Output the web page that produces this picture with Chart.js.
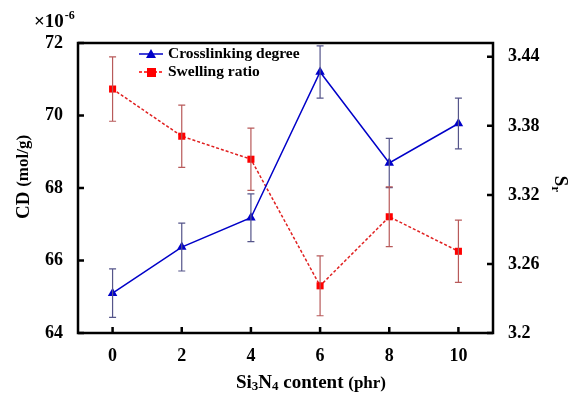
<!DOCTYPE html>
<html><head><meta charset="utf-8">
<script src="https://cdn.jsdelivr.net/npm/chart.js@4/dist/chart.umd.min.js"></script>
<style>html,body{margin:0;padding:0;background:#fff}#wrap{width:570px;height:395px}</style>
</head><body><div id="wrap"><canvas id="c" width="570" height="395"></canvas></div>
<script>
const contents = [0, 2, 4, 6, 8, 10];
const cdValues = [65.1, 66.37, 67.18, 71.2, 68.69, 69.78];
const cdErrors = [0.67, 0.66, 0.66, 0.72, 0.68, 0.7];
const srValues = [3.412, 3.371, 3.351, 3.241, 3.301, 3.271];
const srErrors = [0.028, 0.027, 0.027, 0.026, 0.026, 0.027];
const xTicks = [0, 2, 4, 6, 8, 10];
const cdTicks = [64, 66, 68, 70, 72];
const srTicks = [3.2, 3.26, 3.32, 3.38, 3.44];
const seriesNames = ['Crosslinking degree', 'Swelling ratio'];

const FONT = "'Liberation Serif', 'Times New Roman', serif";
const BLUE = '#0000c8', RED = '#ff0000';

const errPlugin = {
  id: 'extras',
  afterDatasetsDraw(chart) {
    const ctx = chart.ctx, xs = chart.scales.x, y = chart.scales.y, y1 = chart.scales.y1;
    const ca = chart.chartArea;
    ctx.save();
    const drawErr = (vals, errs, sc, col) => {
      ctx.strokeStyle = col; ctx.lineWidth = 1.2;
      vals.forEach((v, i) => {
        const px = xs.getPixelForValue(contents[i]);
        const t = sc.getPixelForValue(v + errs[i]), b = sc.getPixelForValue(v - errs[i]);
        ctx.beginPath();
        ctx.moveTo(px, t); ctx.lineTo(px, b);
        ctx.moveTo(px - 3.5, t); ctx.lineTo(px + 3.5, t);
        ctx.moveTo(px - 3.5, b); ctx.lineTo(px + 3.5, b);
        ctx.stroke();
      });
    };
    drawErr(cdValues, cdErrors, y, '#55558a');
    drawErr(srValues, srErrors, y1, '#b85a5a');
    ctx.strokeStyle = '#000'; ctx.lineWidth = 2.5;
    ctx.strokeRect(ca.left, ca.top, ca.right - ca.left, ca.bottom - ca.top);
    ctx.beginPath();
    xTicks.forEach(t => { const px = xs.getPixelForValue(t); ctx.moveTo(px, ca.bottom); ctx.lineTo(px, ca.bottom - 6); });
    cdTicks.forEach(t => { const py = y.getPixelForValue(t); ctx.moveTo(ca.left, py); ctx.lineTo(ca.left + 6, py); });
    srTicks.forEach(t => { const py = y1.getPixelForValue(t); ctx.moveTo(ca.right, py); ctx.lineTo(ca.right - 6, py); });
    ctx.stroke();
    // legend
    ctx.font = 'bold 15.5px ' + FONT; ctx.fillStyle = '#000'; ctx.textBaseline = 'middle'; ctx.textAlign = 'left';
    ctx.strokeStyle = BLUE; ctx.lineWidth = 1.5; ctx.setLineDash([]);
    ctx.beginPath(); ctx.moveTo(139, 54); ctx.lineTo(163, 54); ctx.stroke();
    ctx.fillStyle = BLUE; ctx.beginPath(); ctx.moveTo(151, 49); ctx.lineTo(156, 58); ctx.lineTo(146, 58); ctx.closePath(); ctx.fill();
    ctx.fillStyle = '#000'; ctx.fillText(seriesNames[0], 168, 54);
    ctx.strokeStyle = RED; ctx.setLineDash([3, 2]);
    ctx.beginPath(); ctx.moveTo(139, 72); ctx.lineTo(163, 72); ctx.stroke(); ctx.setLineDash([]);
    ctx.fillStyle = RED; ctx.fillRect(147, 68, 9, 9);
    ctx.fillStyle = '#000'; ctx.fillText(seriesNames[1], 168, 72);
    // x title with subscripts
    const big = 'bold 19px ' + FONT, small = 'bold 13px ' + FONT, mid = 'bold 17px ' + FONT;
    const parts = [['Si', big, 0], ['3', small, 2], ['N', big, 0], ['4', small, 2], [' content ', big, 0], ['(phr)', mid, 0]];
    let w = 0; parts.forEach(p => { ctx.font = p[1]; w += ctx.measureText(p[0]).width; });
    let x0 = 311 - w / 2; ctx.textBaseline = 'alphabetic';
    parts.forEach(p => { ctx.font = p[1]; ctx.fillText(p[0], x0, 388 + p[2]); x0 += ctx.measureText(p[0]).width; });
    // left title
    ctx.save(); ctx.translate(24, 177); ctx.rotate(-Math.PI / 2);
    ctx.textBaseline = 'middle'; ctx.textAlign = 'left';
    ctx.font = big; const w1 = ctx.measureText('CD ').width;
    ctx.font = mid; const w2 = ctx.measureText('(mol/g)').width;
    ctx.font = big; ctx.fillText('CD ', -(w1 + w2) / 2, 0);
    ctx.font = mid; ctx.fillText('(mol/g)', -(w1 + w2) / 2 + w1, 0);
    ctx.restore();
    // multiplier
    ctx.font = 'bold 19px ' + FONT; ctx.textAlign = 'left'; ctx.textBaseline = 'alphabetic';
    ctx.fillText('\u00d710', 34, 27);
    const mw = ctx.measureText('\u00d710').width;
    ctx.font = 'bold 12px ' + FONT; ctx.fillText('-6', 34 + mw + 1, 19);
    // right title Sr
    ctx.save(); ctx.translate(560, 184); ctx.rotate(Math.PI / 2);
    ctx.font = 'bold 19px ' + FONT; ctx.textAlign = 'left'; ctx.textBaseline = 'middle';
    const sw = ctx.measureText('S').width;
    ctx.fillText('S', -(sw + 6) / 2, 0);
    ctx.font = 'bold 13px ' + FONT; ctx.fillText('r', -(sw + 6) / 2 + sw, 5);
    ctx.restore();
    ctx.restore();
  }
};

new Chart(document.getElementById('c'), {
  type: 'line',
  data: {
    datasets: [
      { label: seriesNames[0], data: contents.map((c, i) => ({ x: c, y: cdValues[i] })), yAxisID: 'y',
        borderColor: BLUE, backgroundColor: BLUE, borderWidth: 1.5, pointStyle: 'triangle', pointRadius: 5.5, pointBorderWidth: 0, tension: 0 },
      { label: seriesNames[1], data: contents.map((c, i) => ({ x: c, y: srValues[i] })), yAxisID: 'y1',
        borderColor: '#e02020', backgroundColor: RED, borderWidth: 1.5, borderDash: [3, 2], pointStyle: 'rect', pointRadius: 5, pointBorderWidth: 0, tension: 0 }
    ]
  },
  options: {
    responsive: false, animation: false, devicePixelRatio: 1,
    layout: { padding: { top: 43, left: 0, right: 0, bottom: 0 } },
    plugins: { legend: { display: false }, tooltip: { enabled: false } },
    scales: {
      x: { type: 'linear', min: -1, max: 11,
        afterBuildTicks: s => { s.ticks = xTicks.map(v => ({ value: v })); },
        afterFit: s => { s.height = 62; },
        grid: { display: false, drawTicks: false }, border: { display: false },
        ticks: { padding: 13, color: '#000', font: { family: FONT, size: 18, weight: 'bold' } } },
      y: { position: 'left', min: 64, max: 72,
        afterBuildTicks: s => { s.ticks = cdTicks.map(v => ({ value: v })); },
        afterFit: s => { s.width = 78; },
        grid: { display: false, drawTicks: false }, border: { display: false },
        ticks: { padding: 15, color: '#000', font: { family: FONT, size: 18, weight: 'bold' } } },
      y1: { position: 'right', min: 3.2, max: 3.452,
        afterBuildTicks: s => { s.ticks = srTicks.map(v => ({ value: v })); },
        afterFit: s => { s.width = 77; },
        grid: { display: false, drawTicks: false }, border: { display: false },
        ticks: { padding: 15, color: '#000', font: { family: FONT, size: 18, weight: 'bold' },
          callback: v => String(Math.round(v * 100) / 100) } }
    }
  },
  plugins: [errPlugin]
});
</script></body></html>
